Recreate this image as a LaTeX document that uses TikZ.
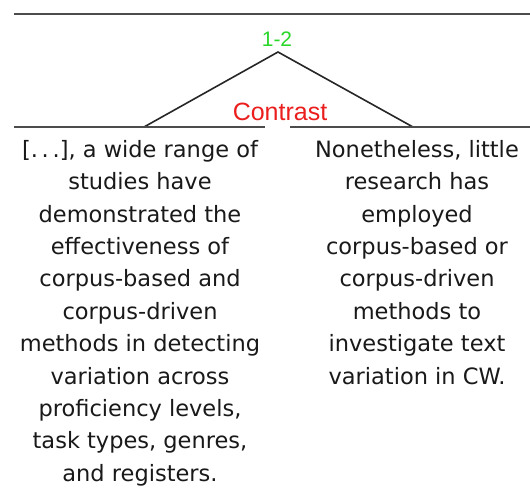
\documentclass[tikz,border=0pt]{standalone}
\usepackage{fontspec}
\setmainfont{DejaVu Sans}
\newfontfamily\labelfont{Liberation Sans}
\usetikzlibrary{positioning}

\definecolor{spangreen}{RGB}{40,215,40}
\definecolor{relred}{RGB}{235,30,30}

\tikzset{
    segtext/.style={align=center, inner sep=0pt, anchor=north, text=black!90,
        font=\fontsize{22.5}{32.4}\selectfont},
    rule/.style={line width=2.8pt, draw=black!70},
    branch/.style={line width=1.6pt, draw=black!85}
}

\begin{document}
\begin{tikzpicture}[x=1pt, y=-1pt]
    \useasboundingbox (0,0) rectangle (530,488);

    % Top rule
    \coordinate (topL) at (14,14);
    \coordinate (topR) at (530,14);
    \draw[rule] (topL) -- (topR);

    % Span label
    \node[text=spangreen, font=\labelfont\fontsize{21}{21}\selectfont, inner sep=0pt] (span) at (277,39) {1-2};

    % Relation branches
    \coordinate (apex) at (278,52);
    \coordinate (lfoot) at (144,127);
    \coordinate (rfoot) at (413,127);
    \draw[branch] (lfoot) -- (apex) -- (rfoot);

    % Relation name
    \node[text=relred, font=\labelfont\fontsize{25}{25}\selectfont, inner sep=0pt, anchor=base] (rel) at (280,120) {Contrast};

    % Bottom rule with gap
    \coordinate (botL) at (14,127);
    \coordinate (gapL) at (265,127);
    \coordinate (gapR) at (290,127);
    \coordinate (botR) at (530,127);
    \draw[rule] (botL) -- (gapL);
    \draw[rule] (gapR) -- (botR);

    % Left segment
    \node[segtext] (seg1) at (140,140) {[.\,.\,.], a wide range of\\studies have\\demonstrated the\\effectiveness of\\corpus-based and\\corpus-driven\\methods in detecting\\variation across\\proficiency levels,\\task types, genres,\\and registers.};

    % Right segment
    \node[segtext] (seg2) at (417,140) {Nonetheless, little\\research has\\employed\\corpus-based or\\corpus-driven\\methods to\\investigate text\\variation in CW.};
\end{tikzpicture}
\end{document}
